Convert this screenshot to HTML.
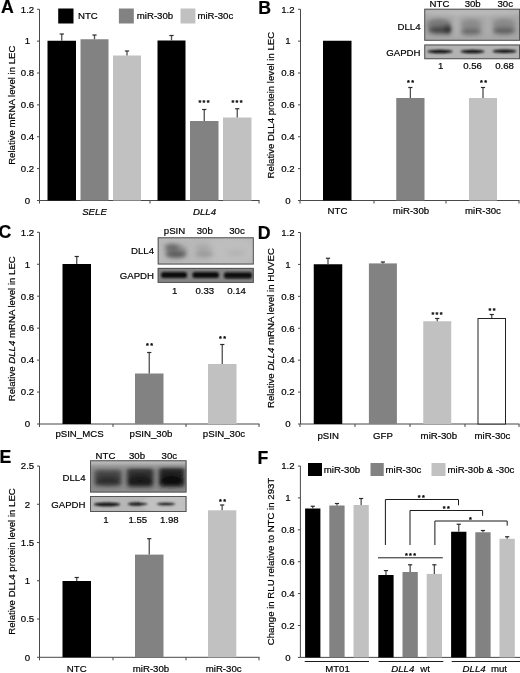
<!DOCTYPE html>
<html lang="en"><head><meta charset="utf-8"><title>Figure</title>
<style>
html,body{margin:0;padding:0;background:#fff;}
svg{display:block;font-family:"Liberation Sans",sans-serif;}
text{fill:#000;stroke:#000;stroke-width:0.2;}
.ax{stroke:#484848;stroke-width:1;fill:none;}
.ln{stroke:#1a1a1a;stroke-width:1;fill:none;}
.es{stroke:#505050;stroke-width:1.3;fill:none;}
.ec{stroke:#2a2a2a;stroke-width:1.2;fill:none;}
</style></head><body>
<svg width="520" height="673" viewBox="0 0 520 673">
<defs>
<filter id="blur2" x="-20%" y="-50%" width="140%" height="200%"><feGaussianBlur stdDeviation="2.2"/></filter>
<filter id="blur1" x="-20%" y="-80%" width="140%" height="260%"><feGaussianBlur stdDeviation="1"/></filter>
<filter id="soft"><feGaussianBlur stdDeviation="0.35"/></filter>
</defs>
<rect width="520" height="673" fill="#fff"/>
<g filter="url(#soft)">
<g id="panelA">
<text x="0.9" y="12.7" text-anchor="start" font-size="17.7" font-weight="bold">A</text>
<path d="M39.5 9.25V200.5H259.5" class="ax"/>
<path d="M37.0 9.25H39.5" class="ax"/>
<text x="27.5" y="12.55" text-anchor="middle" font-size="9.65" >1.2</text>
<path d="M37.0 41.125H39.5" class="ax"/>
<text x="27.5" y="44.425" text-anchor="middle" font-size="9.65" >1</text>
<path d="M37.0 73.0H39.5" class="ax"/>
<text x="27.5" y="76.3" text-anchor="middle" font-size="9.65" >0.8</text>
<path d="M37.0 104.875H39.5" class="ax"/>
<text x="27.5" y="108.175" text-anchor="middle" font-size="9.65" >0.6</text>
<path d="M37.0 136.75H39.5" class="ax"/>
<text x="27.5" y="140.05" text-anchor="middle" font-size="9.65" >0.4</text>
<path d="M37.0 168.625H39.5" class="ax"/>
<text x="27.5" y="171.925" text-anchor="middle" font-size="9.65" >0.2</text>
<path d="M37.0 200.5H39.5" class="ax"/>
<text x="27.5" y="203.8" text-anchor="middle" font-size="9.65" >0</text>
<path d="M39.5 200.5V203.5" class="ax"/>
<path d="M150 200.5V203.5" class="ax"/>
<path d="M259 200.5V203.5" class="ax"/>
<text transform="translate(14.7 105.2) rotate(-90)" text-anchor="middle" font-size="9.65">Relative mRNA level in LEC</text>
<rect x="47.5" y="40.75" width="28.5" height="159.75" fill="#000"/>
<path d="M61.75 40.75V34" class="es"/><path d="M59.65 34H63.85" class="ec"/>
<rect x="80.5" y="39.25" width="28.0" height="161.25" fill="#828282"/>
<path d="M94.5 39.25V35" class="es"/><path d="M92.4 35H96.6" class="ec"/>
<rect x="113" y="55.5" width="28" height="145.0" fill="#c1c1c1"/>
<path d="M127.0 55.5V51" class="es"/><path d="M124.9 51H129.1" class="ec"/>
<rect x="157.5" y="40.5" width="28.0" height="160.0" fill="#000"/>
<path d="M171.5 40.5V35.5" class="es"/><path d="M169.4 35.5H173.6" class="ec"/>
<rect x="190" y="121" width="28.5" height="79.5" fill="#828282"/>
<path d="M204.25 121V109.5" class="es"/><path d="M202.15 109.5H206.35" class="ec"/>
<rect x="223" y="117.5" width="28.5" height="83.0" fill="#c1c1c1"/>
<path d="M237.25 117.5V108.75" class="es"/><path d="M235.15 108.75H239.35" class="ec"/>
<text x="204.7" y="105" text-anchor="middle" font-size="7.2" font-weight="bold" stroke="none" letter-spacing="1.4">***</text>
<text x="237.7" y="105" text-anchor="middle" font-size="7.2" font-weight="bold" stroke="none" letter-spacing="1.4">***</text>
<rect x="58.2" y="8.5" width="15.3" height="15" fill="#000"/>
<text x="78" y="19" text-anchor="start" font-size="9.65" >NTC</text>
<rect x="118.9" y="8.5" width="14.9" height="15" fill="#828282"/>
<text x="136.8" y="19" text-anchor="start" font-size="9.65" >miR-30b</text>
<rect x="180.5" y="8.5" width="14.9" height="15" fill="#c1c1c1"/>
<text x="197.4" y="19" text-anchor="start" font-size="9.65" >miR-30c</text>
<text x="94.5" y="214.8" text-anchor="middle" font-size="9.65" font-style="italic">SELE</text>
<text x="204.5" y="214.9" text-anchor="middle" font-size="9.65" font-style="italic">DLL4</text>
</g>
<g id="panelB">
<text x="258.3" y="13.7" text-anchor="start" font-size="17.7" font-weight="bold">B</text>
<path d="M300.5 9.25V200.5H519.5" class="ax"/>
<path d="M298.0 9.25H300.5" class="ax"/>
<text x="287.9" y="12.55" text-anchor="middle" font-size="9.65" >1.2</text>
<path d="M298.0 41.125H300.5" class="ax"/>
<text x="287.9" y="44.425" text-anchor="middle" font-size="9.65" >1</text>
<path d="M298.0 73.0H300.5" class="ax"/>
<text x="287.9" y="76.3" text-anchor="middle" font-size="9.65" >0.8</text>
<path d="M298.0 104.875H300.5" class="ax"/>
<text x="287.9" y="108.175" text-anchor="middle" font-size="9.65" >0.6</text>
<path d="M298.0 136.75H300.5" class="ax"/>
<text x="287.9" y="140.05" text-anchor="middle" font-size="9.65" >0.4</text>
<path d="M298.0 168.625H300.5" class="ax"/>
<text x="287.9" y="171.925" text-anchor="middle" font-size="9.65" >0.2</text>
<path d="M298.0 200.5H300.5" class="ax"/>
<text x="287.9" y="203.8" text-anchor="middle" font-size="9.65" >0</text>
<path d="M300 200.5V203.5" class="ax"/>
<path d="M374 200.5V203.5" class="ax"/>
<path d="M446 200.5V203.5" class="ax"/>
<path d="M519 200.5V203.5" class="ax"/>
<text transform="translate(273.5 105.1) rotate(-90)" text-anchor="middle" font-size="9.65">Relative DLL4 protein level in LEC</text>
<rect x="323" y="40.75" width="28.5" height="159.75" fill="#000"/>
<rect x="396.25" y="98" width="28.25" height="102.5" fill="#828282"/>
<path d="M410.375 98V87.5" class="es"/><path d="M408.275 87.5H412.475" class="ec"/>
<rect x="469" y="98" width="28" height="102.5" fill="#c1c1c1"/>
<path d="M483.0 98V87.5" class="es"/><path d="M480.9 87.5H485.1" class="ec"/>
<text x="411.2" y="85" text-anchor="middle" font-size="7.2" font-weight="bold" stroke="none" letter-spacing="1.4">**</text>
<text x="484.2" y="85" text-anchor="middle" font-size="7.2" font-weight="bold" stroke="none" letter-spacing="1.4">**</text>
<text x="337.5" y="213.7" text-anchor="middle" font-size="9.65" >NTC</text>
<text x="411" y="213.7" text-anchor="middle" font-size="9.65" >miR-30b</text>
<text x="483" y="213.7" text-anchor="middle" font-size="9.65" >miR-30c</text>
<clipPath id="bc1"><rect x="424.25" y="8.75" width="95.75" height="32.0"/></clipPath>
<clipPath id="bc2"><rect x="424.25" y="44.5" width="95.75" height="14.700000000000003"/></clipPath>
<rect x="424.25" y="8.75" width="95.75" height="32.0" fill="#a6a6a6"/>
<g clip-path="url(#bc1)" filter="url(#blur2)">
<ellipse cx="472" cy="12" rx="60" ry="3.5" fill="#c4c4c4" opacity="0.7"/>
<ellipse cx="456.5" cy="24" rx="2.5" ry="14" fill="#bdbdbd" opacity="0.6"/>
<ellipse cx="488" cy="24" rx="2.5" ry="14" fill="#b8b8b8" opacity="0.5"/>
<ellipse cx="440" cy="30.3" rx="12" ry="3.5" fill="#333" opacity="0.85"/>
<ellipse cx="448" cy="29.3" rx="4" ry="4.5" fill="#1a1a1a" opacity="0.7"/>
<ellipse cx="439" cy="24.5" rx="12" ry="6" fill="#4a4a4a" opacity="0.5"/>
<ellipse cx="471" cy="31.6" rx="10.5" ry="3" fill="#555" opacity="0.8"/>
<ellipse cx="471" cy="25" rx="10.5" ry="6" fill="#707070" opacity="0.5"/>
<ellipse cx="504" cy="30.8" rx="11.5" ry="3.2" fill="#484848" opacity="0.8"/>
<ellipse cx="504" cy="24.5" rx="11.5" ry="6" fill="#6c6c6c" opacity="0.5"/>
</g>
<rect x="424.75" y="9.25" width="94.75" height="31.0" fill="none" stroke="#555" stroke-width="1"/>
<rect x="424.25" y="44.5" width="95.75" height="14.700000000000003" fill="#b2b2b2"/>
<g clip-path="url(#bc2)" filter="url(#blur1)">
<ellipse cx="440" cy="51.5" rx="12.5" ry="1.7" fill="#111" opacity="1"/>
<ellipse cx="472.5" cy="51.5" rx="12" ry="1.7" fill="#111" opacity="1"/>
<ellipse cx="504.5" cy="51.3" rx="12" ry="1.7" fill="#111" opacity="1"/>
</g>
<rect x="424.75" y="45.0" width="94.75" height="13.700000000000003" fill="none" stroke="#555" stroke-width="1"/>
<text x="439.5" y="7" text-anchor="middle" font-size="9.65" >NTC</text>
<text x="472.7" y="7" text-anchor="middle" font-size="9.65" >30b</text>
<text x="505.2" y="7" text-anchor="middle" font-size="9.65" >30c</text>
<text x="420.5" y="30.2" text-anchor="end" font-size="9.65" >DLL4</text>
<text x="420.5" y="56" text-anchor="end" font-size="9.65" >GAPDH</text>
<text x="440.75" y="69.4" text-anchor="middle" font-size="9.65" >1</text>
<text x="472.5" y="69.4" text-anchor="middle" font-size="9.65" >0.56</text>
<text x="504.5" y="69.4" text-anchor="middle" font-size="9.65" >0.68</text>
</g>
<g id="panelC">
<text x="-1.6" y="238.4" text-anchor="start" font-size="17.7" font-weight="bold">C</text>
<path d="M39.5 232.3V424H259.5" class="ax"/>
<path d="M37.0 232.3H39.5" class="ax"/>
<text x="27.5" y="235.60000000000002" text-anchor="middle" font-size="9.65" >1.2</text>
<path d="M37.0 264.25H39.5" class="ax"/>
<text x="27.5" y="267.55" text-anchor="middle" font-size="9.65" >1</text>
<path d="M37.0 296.2H39.5" class="ax"/>
<text x="27.5" y="299.5" text-anchor="middle" font-size="9.65" >0.8</text>
<path d="M37.0 328.15H39.5" class="ax"/>
<text x="27.5" y="331.45" text-anchor="middle" font-size="9.65" >0.6</text>
<path d="M37.0 360.1H39.5" class="ax"/>
<text x="27.5" y="363.40000000000003" text-anchor="middle" font-size="9.65" >0.4</text>
<path d="M37.0 392.05H39.5" class="ax"/>
<text x="27.5" y="395.35" text-anchor="middle" font-size="9.65" >0.2</text>
<path d="M37.0 424.0H39.5" class="ax"/>
<text x="27.5" y="427.3" text-anchor="middle" font-size="9.65" >0</text>
<path d="M39.5 424V427" class="ax"/>
<path d="M113 424V427" class="ax"/>
<path d="M186 424V427" class="ax"/>
<path d="M259 424V427" class="ax"/>
<text transform="translate(14.7 328.7) rotate(-90)" text-anchor="middle" font-size="9.65">Relative <tspan font-style="italic">DLL4</tspan> mRNA level in LEC</text>
<rect x="62.5" y="264" width="28.5" height="160" fill="#000"/>
<path d="M76.75 264V256.5" class="es"/><path d="M74.65 256.5H78.85" class="ec"/>
<rect x="135" y="373.5" width="28.5" height="50.5" fill="#828282"/>
<path d="M149.25 373.5V352.5" class="es"/><path d="M147.15 352.5H151.35" class="ec"/>
<rect x="208" y="364" width="28.5" height="60" fill="#c1c1c1"/>
<path d="M222.25 364V344.5" class="es"/><path d="M220.15 344.5H224.35" class="ec"/>
<text x="150.2" y="348" text-anchor="middle" font-size="7.2" font-weight="bold" stroke="none" letter-spacing="1.4">**</text>
<text x="223.2" y="340.5" text-anchor="middle" font-size="7.2" font-weight="bold" stroke="none" letter-spacing="1.4">**</text>
<text x="79.5" y="436.8" text-anchor="middle" font-size="9.65" >pSIN_MCS</text>
<text x="151" y="436.8" text-anchor="middle" font-size="9.65" >pSIN_30b</text>
<text x="224" y="436.8" text-anchor="middle" font-size="9.65" >pSIN_30c</text>
<clipPath id="cc1"><rect x="157.7" y="237.3" width="96.10000000000002" height="27.19999999999999"/></clipPath>
<clipPath id="cc2"><rect x="157.7" y="267.9" width="96.10000000000002" height="15.0"/></clipPath>
<rect x="157.7" y="237.3" width="96.10000000000002" height="27.19999999999999" fill="#b8b8b8"/>
<g clip-path="url(#cc1)" filter="url(#blur2)">
<ellipse cx="230" cy="251" rx="26" ry="14" fill="#c2c2c2" opacity="0.6"/>
<ellipse cx="176" cy="254.5" rx="10.5" ry="3.2" fill="#404040" opacity="0.9"/>
<ellipse cx="172" cy="247" rx="7.5" ry="3" fill="#484848" opacity="0.75"/>
<ellipse cx="176" cy="250.5" rx="11" ry="6" fill="#666" opacity="0.5"/>
<ellipse cx="204.5" cy="254" rx="9.5" ry="3" fill="#8a8a8a" opacity="0.7"/>
<ellipse cx="204" cy="247.5" rx="9" ry="2.5" fill="#989898" opacity="0.6"/>
<ellipse cx="236" cy="253" rx="9" ry="3" fill="#a8a8a8" opacity="0.5"/>
</g>
<rect x="158.2" y="237.8" width="95.10000000000002" height="26.19999999999999" fill="none" stroke="#555" stroke-width="1"/>
<rect x="157.7" y="267.9" width="96.10000000000002" height="15.0" fill="#848484"/>
<g clip-path="url(#cc2)" filter="url(#blur1)">
<rect x="161" y="272" width="26" height="6" rx="2.5" fill="#0a0a0a" opacity="1"/>
<rect x="192.5" y="272" width="26.5" height="6" rx="2.5" fill="#0a0a0a" opacity="1"/>
<rect x="224" y="272.3" width="28" height="6.2" rx="2.5" fill="#0a0a0a" opacity="1"/>
</g>
<rect x="158.2" y="268.4" width="95.10000000000002" height="14.0" fill="none" stroke="#555" stroke-width="1"/>
<text x="174.5" y="233.5" text-anchor="middle" font-size="9.65" >pSIN</text>
<text x="204.8" y="233.5" text-anchor="middle" font-size="9.65" >30b</text>
<text x="237" y="233.5" text-anchor="middle" font-size="9.65" >30c</text>
<text x="154" y="254.2" text-anchor="end" font-size="9.65" >DLL4</text>
<text x="154" y="278.5" text-anchor="end" font-size="9.65" >GAPDH</text>
<text x="174.7" y="294.2" text-anchor="middle" font-size="9.65" >1</text>
<text x="204.8" y="294.2" text-anchor="middle" font-size="9.65" >0.33</text>
<text x="236.5" y="294.2" text-anchor="middle" font-size="9.65" >0.14</text>
</g>
<g id="panelD">
<text x="257.8" y="239.1" text-anchor="start" font-size="17.7" font-weight="bold">D</text>
<path d="M300.5 232.5V424H519.5" class="ax"/>
<path d="M298.0 232.5H300.5" class="ax"/>
<text x="287.9" y="235.8" text-anchor="middle" font-size="9.65" >1.2</text>
<path d="M298.0 264.4166666666667H300.5" class="ax"/>
<text x="287.9" y="267.7166666666667" text-anchor="middle" font-size="9.65" >1</text>
<path d="M298.0 296.3333333333333H300.5" class="ax"/>
<text x="287.9" y="299.6333333333333" text-anchor="middle" font-size="9.65" >0.8</text>
<path d="M298.0 328.25H300.5" class="ax"/>
<text x="287.9" y="331.55" text-anchor="middle" font-size="9.65" >0.6</text>
<path d="M298.0 360.1666666666667H300.5" class="ax"/>
<text x="287.9" y="363.4666666666667" text-anchor="middle" font-size="9.65" >0.4</text>
<path d="M298.0 392.08333333333337H300.5" class="ax"/>
<text x="287.9" y="395.3833333333334" text-anchor="middle" font-size="9.65" >0.2</text>
<path d="M298.0 424.0H300.5" class="ax"/>
<text x="287.9" y="427.3" text-anchor="middle" font-size="9.65" >0</text>
<path d="M300 424V427" class="ax"/>
<path d="M355 424V427" class="ax"/>
<path d="M410 424V427" class="ax"/>
<path d="M465 424V427" class="ax"/>
<path d="M519 424V427" class="ax"/>
<text transform="translate(273.5 328.1) rotate(-90)" text-anchor="middle" font-size="9.65">Relative <tspan font-style="italic">DLL4</tspan> mRNA level in HUVEC</text>
<rect x="313.75" y="264.25" width="28.5" height="159.75" fill="#000"/>
<path d="M328.0 264.25V258.25" class="es"/><path d="M325.9 258.25H330.1" class="ec"/>
<rect x="368.9" y="263.4" width="28.0" height="160.60000000000002" fill="#828282"/>
<path d="M382.9 263.4V262" class="es"/><path d="M380.79999999999995 262H385.0" class="ec"/>
<rect x="423.25" y="321.25" width="28.0" height="102.75" fill="#c1c1c1"/>
<path d="M437.25 321.25V318.5" class="es"/><path d="M435.15 318.5H439.35" class="ec"/>
<rect x="478.0" y="318.5" width="27.5" height="105.5" fill="#fff" stroke="#222" stroke-width="1"/>
<path d="M491.75 318V314.5" class="es"/><path d="M489.65 314.5H493.85" class="ec"/>
<text x="437.7" y="317" text-anchor="middle" font-size="7.2" font-weight="bold" stroke="none" letter-spacing="1.4">***</text>
<text x="492.7" y="313" text-anchor="middle" font-size="7.2" font-weight="bold" stroke="none" letter-spacing="1.4">**</text>
<text x="328.2" y="438.5" text-anchor="middle" font-size="9.65" >pSIN</text>
<text x="383" y="438.5" text-anchor="middle" font-size="9.65" >GFP</text>
<text x="438.8" y="438.5" text-anchor="middle" font-size="9.65" >miR-30b</text>
<text x="492.5" y="438.5" text-anchor="middle" font-size="9.65" >miR-30c</text>
</g>
<g id="panelE">
<text x="-0.5" y="463" text-anchor="start" font-size="17.7" font-weight="bold">E</text>
<path d="M39.5 466V657.3H259.5" class="ax"/>
<path d="M37.0 466.0H39.5" class="ax"/>
<text x="27.5" y="469.3" text-anchor="middle" font-size="9.65" >2.5</text>
<path d="M37.0 504.26H39.5" class="ax"/>
<text x="27.5" y="507.56" text-anchor="middle" font-size="9.65" >2</text>
<path d="M37.0 542.52H39.5" class="ax"/>
<text x="27.5" y="545.8199999999999" text-anchor="middle" font-size="9.65" >1.5</text>
<path d="M37.0 580.78H39.5" class="ax"/>
<text x="27.5" y="584.0799999999999" text-anchor="middle" font-size="9.65" >1</text>
<path d="M37.0 619.04H39.5" class="ax"/>
<text x="27.5" y="622.3399999999999" text-anchor="middle" font-size="9.65" >0.5</text>
<path d="M37.0 657.3H39.5" class="ax"/>
<text x="27.5" y="660.5999999999999" text-anchor="middle" font-size="9.65" >0</text>
<path d="M39.5 657.3V660.3" class="ax"/>
<path d="M113 657.3V660.3" class="ax"/>
<path d="M186 657.3V660.3" class="ax"/>
<path d="M259 657.3V660.3" class="ax"/>
<text transform="translate(14.7 561.5) rotate(-90)" text-anchor="middle" font-size="9.65">Relative DLL4 protein level in LEC</text>
<rect x="62.5" y="581" width="28.5" height="76.29999999999995" fill="#000"/>
<path d="M76.75 581V577.5" class="es"/><path d="M74.65 577.5H78.85" class="ec"/>
<rect x="135" y="554.6" width="28.5" height="102.69999999999993" fill="#828282"/>
<path d="M149.25 554.6V538.7" class="es"/><path d="M147.15 538.7H151.35" class="ec"/>
<rect x="208" y="510.3" width="28.30000000000001" height="146.99999999999994" fill="#c1c1c1"/>
<path d="M222.15 510.3V505" class="es"/><path d="M220.05 505H224.25" class="ec"/>
<text x="223.2" y="504" text-anchor="middle" font-size="7.2" font-weight="bold" stroke="none" letter-spacing="1.4">**</text>
<text x="76.7" y="671.7" text-anchor="middle" font-size="9.65" >NTC</text>
<text x="151" y="671.7" text-anchor="middle" font-size="9.65" >miR-30b</text>
<text x="223.7" y="671.7" text-anchor="middle" font-size="9.65" >miR-30c</text>
<clipPath id="ec1"><rect x="90" y="460.3" width="96.5" height="32.19999999999999"/></clipPath>
<clipPath id="ec2"><rect x="90" y="496" width="96.5" height="16"/></clipPath>
<rect x="90" y="460.3" width="96.5" height="32.19999999999999" fill="#8c8c8c"/>
<g clip-path="url(#ec1)" filter="url(#blur2)">
<rect x="86" y="457" width="104" height="7.5" rx="3" fill="#c8c8c8" opacity="0.9"/>
<rect x="94.5" y="470" width="27" height="16" rx="3" fill="#3a3a3a" opacity="0.85"/>
<ellipse cx="108" cy="481" rx="12" ry="4.5" fill="#1c1c1c" opacity="0.6"/>
<rect x="127" y="468.5" width="26.5" height="18.5" rx="3" fill="#262626" opacity="0.9"/>
<ellipse cx="140" cy="481" rx="12" ry="5" fill="#0c0c0c" opacity="0.7"/>
<rect x="159" y="467.5" width="25.5" height="19.5" rx="3" fill="#202020" opacity="0.95"/>
<ellipse cx="171.5" cy="480.5" rx="12" ry="5.5" fill="#080808" opacity="0.7"/>
</g>
<rect x="90.5" y="460.8" width="95.5" height="31.19999999999999" fill="none" stroke="#555" stroke-width="1"/>
<rect x="90" y="496" width="96.5" height="16" fill="#b6b6b6"/>
<g clip-path="url(#ec2)" filter="url(#blur1)">
<ellipse cx="170" cy="504" rx="30" ry="9" fill="#c6c6c6" opacity="0.7"/>
<ellipse cx="107" cy="504.4" rx="13" ry="1.9" fill="#101010" opacity="1"/>
<ellipse cx="137.8" cy="504" rx="10" ry="1.7" fill="#181818" opacity="1"/>
<ellipse cx="166" cy="504" rx="9.5" ry="1.7" fill="#181818" opacity="1"/>
</g>
<rect x="90.5" y="496.5" width="95.5" height="15" fill="none" stroke="#555" stroke-width="1"/>
<text x="105.5" y="458.6" text-anchor="middle" font-size="9.65" >NTC</text>
<text x="137" y="458.6" text-anchor="middle" font-size="9.65" >30b</text>
<text x="169.3" y="458.6" text-anchor="middle" font-size="9.65" >30c</text>
<text x="85.5" y="481.2" text-anchor="end" font-size="9.65" >DLL4</text>
<text x="85.5" y="508.2" text-anchor="end" font-size="9.65" >GAPDH</text>
<text x="106" y="522.6" text-anchor="middle" font-size="9.65" >1</text>
<text x="137.8" y="522.6" text-anchor="middle" font-size="9.65" >1.55</text>
<text x="169.3" y="522.6" text-anchor="middle" font-size="9.65" >1.98</text>
</g>
<g id="panelF">
<text x="257.5" y="464" text-anchor="start" font-size="17.7" font-weight="bold">F</text>
<path d="M300.4 466V657.4H520" class="ax"/>
<path d="M297.9 466.0H300.4" class="ax"/>
<text x="287.9" y="469.3" text-anchor="middle" font-size="9.65" >1.2</text>
<path d="M297.9 497.9H300.4" class="ax"/>
<text x="287.9" y="501.2" text-anchor="middle" font-size="9.65" >1</text>
<path d="M297.9 529.8H300.4" class="ax"/>
<text x="287.9" y="533.0999999999999" text-anchor="middle" font-size="9.65" >0.8</text>
<path d="M297.9 561.7H300.4" class="ax"/>
<text x="287.9" y="565.0" text-anchor="middle" font-size="9.65" >0.6</text>
<path d="M297.9 593.6H300.4" class="ax"/>
<text x="287.9" y="596.9" text-anchor="middle" font-size="9.65" >0.4</text>
<path d="M297.9 625.5H300.4" class="ax"/>
<text x="287.9" y="628.8" text-anchor="middle" font-size="9.65" >0.2</text>
<path d="M297.9 657.4H300.4" class="ax"/>
<text x="287.9" y="660.6999999999999" text-anchor="middle" font-size="9.65" >0</text>
<text transform="translate(273.5 561.5) rotate(-90)" text-anchor="middle" font-size="9.65">Change in RLU relative to NTC in 293T</text>
<rect x="305.1" y="508.5" width="15.300000000000011" height="148.89999999999998" fill="#000"/>
<path d="M312.75 508.5V506.25" class="es"/><path d="M310.65 506.25H314.85" class="ec"/>
<rect x="329.3" y="505.5" width="15.300000000000011" height="151.89999999999998" fill="#828282"/>
<path d="M336.95000000000005 505.5V503.5" class="es"/><path d="M334.85 503.5H339.05000000000007" class="ec"/>
<rect x="353.5" y="505" width="15.300000000000011" height="152.39999999999998" fill="#c1c1c1"/>
<path d="M361.15 505V498.5" class="es"/><path d="M359.04999999999995 498.5H363.25" class="ec"/>
<rect x="378.3" y="575" width="15.300000000000011" height="82.39999999999998" fill="#000"/>
<path d="M385.95000000000005 575V570.6" class="es"/><path d="M383.85 570.6H388.05000000000007" class="ec"/>
<rect x="402.5" y="572" width="15.300000000000011" height="85.39999999999998" fill="#828282"/>
<path d="M410.15 572V564.8" class="es"/><path d="M408.04999999999995 564.8H412.25" class="ec"/>
<rect x="426.7" y="573.9" width="15.300000000000011" height="83.5" fill="#c1c1c1"/>
<path d="M434.35 573.9V564.8" class="es"/><path d="M432.25 564.8H436.45000000000005" class="ec"/>
<rect x="451.1" y="531.75" width="15.300000000000011" height="125.64999999999998" fill="#000"/>
<path d="M458.75 531.75V524.25" class="es"/><path d="M456.65 524.25H460.85" class="ec"/>
<rect x="475.3" y="532.25" width="15.300000000000011" height="125.14999999999998" fill="#828282"/>
<path d="M482.95000000000005 532.25V530.5" class="es"/><path d="M480.85 530.5H485.05000000000007" class="ec"/>
<rect x="499.5" y="538.75" width="15.299999999999955" height="118.64999999999998" fill="#c1c1c1"/>
<path d="M507.15 538.75V536.75" class="es"/><path d="M505.04999999999995 536.75H509.25" class="ec"/>
<path d="M304.7 661.5H369M378.6 661.5H443.3M451.7 661.5H520" class="ln"/>
<text x="337.5" y="672" text-anchor="middle" font-size="9.65" >MT01</text>
<text x="391.3" y="672" text-anchor="start" font-size="9.65" font-style="italic">DLL4</text>
<text x="420.2" y="672" text-anchor="start" font-size="9.65" >wt</text>
<text x="462.6" y="672" text-anchor="start" font-size="9.65" font-style="italic">DLL4</text>
<text x="491" y="672" text-anchor="start" font-size="9.65" >mut</text>
<rect x="308" y="463" width="14" height="13" fill="#000"/>
<text x="323.75" y="473" text-anchor="start" font-size="9.65" >miR-30b</text>
<rect x="370.5" y="463" width="13.25" height="13" fill="#828282"/>
<text x="385.5" y="473" text-anchor="start" font-size="9.65" >miR-30c</text>
<rect x="431.5" y="463" width="14" height="13" fill="#c1c1c1"/>
<text x="447.5" y="473" text-anchor="start" font-size="9.65" >miR-30b &amp; -30c</text>
<path d="M385.4 545V499.5H458.5V505.3M410 545V510.5H482.6V515.8M434.9 545V521H507.2V525.7M378 557.8H442.8" class="ln"/>
<text x="421.95" y="500.3" text-anchor="middle" font-size="7.2" font-weight="bold" stroke="none" letter-spacing="1.4">**</text>
<text x="446.95" y="511.3" text-anchor="middle" font-size="7.2" font-weight="bold" stroke="none" letter-spacing="1.4">**</text>
<text x="471.2" y="521.8" text-anchor="middle" font-size="7.2" font-weight="bold" stroke="none" letter-spacing="1.4">*</text>
<text x="411.2" y="557.5" text-anchor="middle" font-size="7.2" font-weight="bold" stroke="none" letter-spacing="1.4">***</text>
</g>
</g>
</svg>
</body></html>
